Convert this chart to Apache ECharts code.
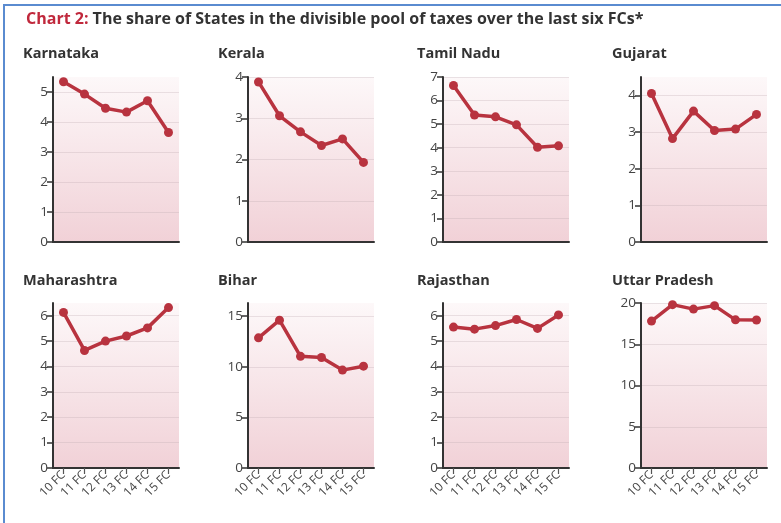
<!DOCTYPE html>
<html>
<head>
<meta charset="utf-8">
<script src="https://cdn.jsdelivr.net/npm/echarts@6/dist/echarts.min.js"></script>
<style>
  html, body { margin: 0; padding: 0; background: #ffffff; }
  #chart { width: 781px; height: 523px; position: absolute; left: 0; top: 0; }
  #frame { position: absolute; left: 3px; top: 4px; width: 800px; height: 600px;
           border-top: 2px solid #5a8bd0; border-left: 2px solid #5a8bd0; pointer-events: none; }
</style>
</head>
<body>
<div id="chart"></div>
<div id="frame"></div>
<script>
// ---- data ----
const categories = ['10 FC', '11 FC', '12 FC', '13 FC', '14 FC', '15 FC'];
const states = ['Karnataka', 'Kerala', 'Tamil Nadu', 'Gujarat', 'Maharashtra', 'Bihar', 'Rajasthan', 'Uttar Pradesh'];
const karnataka   = [5.34, 4.93, 4.46, 4.33, 4.71, 3.65];
const kerala      = [3.88, 3.06, 2.67, 2.34, 2.50, 1.93];
const tamilNadu   = [6.64, 5.39, 5.31, 4.97, 4.02, 4.08];
const gujarat     = [4.05, 2.82, 3.57, 3.04, 3.08, 3.48];
const maharashtra = [6.13, 4.63, 5.00, 5.20, 5.52, 6.32];
const bihar       = [12.86, 14.60, 11.03, 10.92, 9.67, 10.06];
const rajasthan   = [5.55, 5.47, 5.61, 5.85, 5.50, 6.03];
const uttarPradesh= [17.81, 19.80, 19.26, 19.68, 17.96, 17.94];
const seriesValues = [karnataka, kerala, tamilNadu, gujarat, maharashtra, bihar, rajasthan, uttarPradesh];
const yMaxes = [5.5, 4, 7, 4.5, 6.5, 16.3, 6.5, 20];
const yTicks = [
  [0, 1, 2, 3, 4, 5],
  [0, 1, 2, 3, 4],
  [0, 1, 2, 3, 4, 5, 6, 7],
  [0, 1, 2, 3, 4],
  [0, 1, 2, 3, 4, 5, 6],
  [0, 5, 10, 15],
  [0, 1, 2, 3, 4, 5, 6],
  [0, 5, 10, 15, 20]
];
const titleMain = 'Chart 2:';
const titleRest = ' The share of States in the divisible pool of taxes over the last six FCs*';

// ---- layout ----
const colLeft = [53, 248, 443, 641];
const rowTop = [77, 303];
const plotW = 126, plotH = 165;
const titleLeft = [23, 218, 417, 612];
const titleTop = [46, 273];
const lineColor = '#b8333f';
const axisColor = '#333333';
const font = 'Open Sans';

const chart = echarts.init(document.getElementById('chart'));

const grids = [], xAxes = [], yAxes = [], series = [];
const titles = [{
  left: 26, top: 11, padding: 0,
  text: '{a|' + titleMain + '}{b|' + titleRest + '}',
  textStyle: {
    rich: {
      a: { fontFamily: font, fontWeight: 'bold', fontSize: 16, color: '#c0283c' },
      b: { fontFamily: font, fontWeight: 'bold', fontSize: 16, color: '#333333' }
    }
  }
}];

states.forEach((name, i) => {
  const row = Math.floor(i / 4), col = i % 4;
  const bottomRow = row === 1;
  titles.push({
    text: name, left: titleLeft[col], top: titleTop[row], padding: 0,
    textStyle: { fontFamily: font, fontWeight: 'bold', fontSize: 14.5, color: '#333333' }
  });
  grids.push({
    left: colLeft[col], top: rowTop[row], width: plotW, height: plotH,
    show: true, borderWidth: 0,
    backgroundColor: new echarts.graphic.LinearGradient(0, 0, 0, 1, [
      { offset: 0, color: '#fdf8f9' },
      { offset: 1, color: '#f1d1d7' }
    ])
  });
  xAxes.push({
    type: 'category', gridIndex: i, data: categories, boundaryGap: true,
    axisLine: { show: true, lineStyle: { color: axisColor, width: 2 } },
    axisTick: { show: bottomRow, alignWithLabel: true, length: 6, lineStyle: { color: '#555555', width: 1.2 } },
    axisLabel: { show: bottomRow, rotate: 45, fontSize: 12, color: '#444444', margin: 5,
                 fontFamily: font, interval: 0 },
    splitLine: { show: false }
  });
  yAxes.push({
    type: 'value', gridIndex: i, min: 0, max: yMaxes[i],
    axisLine: { show: true, lineStyle: { color: axisColor, width: 2 } },
    axisTick: { show: true, length: 6, customValues: yTicks[i], lineStyle: { color: axisColor, width: 1.5 } },
    axisLabel: { customValues: yTicks[i], fontSize: 13.5, color: '#444444', margin: 5, fontFamily: font },
    splitLine: { show: true, lineStyle: { color: 'rgba(190,170,175,0.3)', width: 1 } }
  });
  series.push({
    type: 'line', xAxisIndex: i, yAxisIndex: i, data: seriesValues[i],
    symbol: 'circle', symbolSize: 9,
    lineStyle: { color: lineColor, width: 3.5 },
    itemStyle: { color: lineColor },
    animation: false
  });
});

chart.setOption({
  animation: false,
  title: titles,
  grid: grids,
  xAxis: xAxes,
  yAxis: yAxes,
  series: series
});
</script>
</body>
</html>
